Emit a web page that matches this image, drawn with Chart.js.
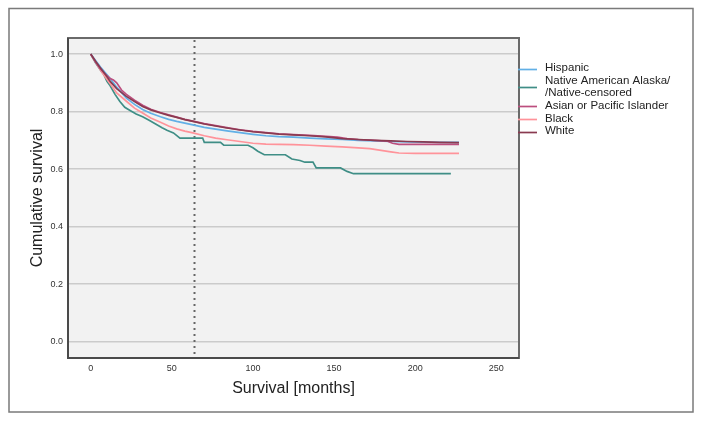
<!DOCTYPE html>
<html>
<head>
<meta charset="utf-8">
<script src="https://cdn.jsdelivr.net/npm/chart.js@4/dist/chart.umd.min.js"></script>
<style>
  html, body { margin: 0; padding: 0; background: #ffffff; }
  #wrap { width: 703px; height: 422px; position: relative; }
  canvas { display: block; }
</style>
</head>
<body>
<div id="wrap"><canvas id="c" width="703" height="422"></canvas></div>
<script>
// ---- Data ----
const seriesNames = ["Hispanic", ["Native American Alaska/", "/Native-censored"], "Asian or Pacific Islander", "Black", "White"];
const seriesColors = ["#62B0E6", "#3F8E86", "#BC4E7E", "#FF939A", "#8A3A50"];

const hispanicMonths   = [0, 3, 6, 9, 12, 16, 22, 27, 32, 37, 43, 48, 53, 58, 63, 70, 77, 84, 92, 100, 108, 116, 125, 135, 145, 155, 165, 175, 185, 195, 205, 215, 227];
const hispanicSurvival = [1.0, 0.978, 0.955, 0.935, 0.915, 0.885, 0.847, 0.825, 0.807, 0.794, 0.782, 0.773, 0.766, 0.760, 0.754, 0.745, 0.739, 0.733, 0.727, 0.721, 0.716, 0.713, 0.711, 0.708, 0.705, 0.703, 0.700, 0.698, 0.696, 0.695, 0.694, 0.693, 0.693];

const nativeMonths   = [0, 3, 6, 8, 10, 12, 15, 18, 21, 24, 28, 32, 36, 40, 44, 47, 51, 55, 69, 70, 80, 82, 97, 100, 103, 107, 120, 124, 129, 132, 137, 139, 154, 158, 162, 222];
const nativeSurvival = [1.0, 0.97, 0.945, 0.93, 0.905, 0.89, 0.86, 0.835, 0.815, 0.805, 0.792, 0.782, 0.77, 0.757, 0.744, 0.735, 0.726, 0.708, 0.708, 0.693, 0.693, 0.683, 0.683, 0.674, 0.662, 0.65, 0.65, 0.635, 0.630, 0.624, 0.624, 0.604, 0.604, 0.592, 0.584, 0.584];

const asianMonths   = [0, 3, 6, 9, 12, 14, 16, 19, 22, 27, 32, 37, 43, 48, 53, 58, 63, 70, 77, 84, 92, 100, 108, 116, 125, 135, 145, 152, 158, 165, 175, 183, 186, 190, 200, 215, 227];
const asianSurvival = [1.0, 0.972, 0.948, 0.93, 0.915, 0.91, 0.90, 0.875, 0.86, 0.84, 0.822, 0.808, 0.797, 0.789, 0.781, 0.773, 0.767, 0.758, 0.751, 0.744, 0.737, 0.731, 0.727, 0.723, 0.720, 0.717, 0.714, 0.711, 0.706, 0.703, 0.700, 0.697, 0.690, 0.686, 0.686, 0.686, 0.686];

const blackMonths   = [0, 3, 6, 9, 12, 16, 22, 27, 32, 37, 43, 48, 53, 58, 63, 70, 77, 84, 92, 100, 108, 116, 125, 135, 145, 155, 165, 172, 178, 185, 190, 200, 215, 227];
const blackSurvival = [1.0, 0.972, 0.945, 0.92, 0.897, 0.865, 0.836, 0.812, 0.795, 0.778, 0.763, 0.75, 0.740, 0.732, 0.726, 0.716, 0.708, 0.702, 0.696, 0.690, 0.687, 0.686, 0.685, 0.683, 0.680, 0.677, 0.674, 0.671, 0.666, 0.660, 0.656, 0.655, 0.655, 0.655];

const whiteMonths   = [0, 3, 6, 9, 12, 16, 22, 27, 32, 37, 43, 48, 53, 58, 63, 70, 77, 84, 92, 100, 108, 116, 125, 135, 145, 155, 165, 175, 185, 195, 205, 215, 227];
const whiteSurvival = [1.0, 0.975, 0.952, 0.93, 0.905, 0.88, 0.853, 0.835, 0.818, 0.806, 0.795, 0.787, 0.780, 0.772, 0.766, 0.757, 0.750, 0.743, 0.736, 0.730, 0.726, 0.722, 0.719, 0.716, 0.712, 0.706, 0.703, 0.700, 0.698, 0.696, 0.695, 0.693, 0.692];

const xTickValues = [0, 50, 100, 150, 200, 250];
const yTickValues = [0.0, 0.2, 0.4, 0.6, 0.8, 1.0];
const referenceMonth = 63.6;

const xTitle = "Survival [months]";
const yTitle = "Cumulative survival";

// ---- Build datasets ----
function zip(ms, ss) { return ms.map((m, i) => ({ x: m, y: ss[i] })); }
const monthsList = [hispanicMonths, nativeMonths, asianMonths, blackMonths, whiteMonths];
const survList = [hispanicSurvival, nativeSurvival, asianSurvival, blackSurvival, whiteSurvival];
const drawOrder = [2, 4, 1, 3, 0];

const datasets = seriesNames.map((name, i) => ({
  label: Array.isArray(name) ? name.join(' ') : name,
  data: zip(monthsList[i], survList[i]),
  borderColor: seriesColors[i],
  backgroundColor: seriesColors[i],
  borderWidth: 1.7,
  pointRadius: 0,
  tension: 0,
  fill: false,
  order: drawOrder[i]
}));

const FONT = "'Liberation Sans', Arial, sans-serif";

const decorPlugin = {
  id: 'decor',
  beforeDraw(chart) {
    const { ctx, chartArea: a } = chart;
    ctx.save();
    ctx.fillStyle = '#ffffff';
    ctx.fillRect(0, 0, chart.width, chart.height);
    ctx.fillStyle = '#F2F2F2';
    ctx.fillRect(a.left, a.top, a.right - a.left, a.bottom - a.top);
    ctx.restore();
  },
  beforeDatasetsDraw(chart) {
    const { ctx, chartArea: a, scales } = chart;
    const x = Math.round(scales.x.getPixelForValue(referenceMonth)) + 0.5;
    ctx.save();
    ctx.strokeStyle = '#666666';
    ctx.lineWidth = 2;
    ctx.setLineDash([2, 4]);
    ctx.beginPath();
    ctx.moveTo(x, a.top + 2);
    ctx.lineTo(x, a.bottom);
    ctx.stroke();
    ctx.restore();
  },
  afterDatasetsDraw(chart) {
    const { ctx, chartArea: a } = chart;
    ctx.save();
    // plot frame
    ctx.strokeStyle = '#6a6a6a';
    ctx.lineWidth = 2;
    ctx.strokeRect(a.left, a.top, a.right - a.left, a.bottom - a.top);
    ctx.strokeStyle = '#4a4a4a';
    ctx.beginPath();
    ctx.moveTo(a.left, a.top);
    ctx.lineTo(a.left, a.bottom);
    ctx.lineTo(a.right, a.bottom);
    ctx.stroke();
    // outer frame
    ctx.strokeStyle = '#7a7a7a';
    ctx.lineWidth = 1.5;
    ctx.strokeRect(9, 8.5, 684, 403.5);
    // legend
    ctx.fillStyle = '#ffffff';
    ctx.fillRect(a.right + 1, 57, 170, 85);
    const lineX0 = a.right - 1, lineX1 = a.right + 18, textX = a.right + 26;
    ctx.font = '11.5px ' + FONT;
    ctx.textBaseline = 'middle';
    ctx.textAlign = 'left';
    let y = 68;
    const step = 12.6;
    seriesNames.forEach((name, i) => {
      const lines = Array.isArray(name) ? name : [name];
      const lineY = y + (lines.length - 1) * step / 2 + 0.5;
      ctx.strokeStyle = seriesColors[i];
      ctx.lineWidth = 1.7;
      ctx.beginPath();
      ctx.moveTo(lineX0, Math.round(lineY) + 0.5);
      ctx.lineTo(lineX1, Math.round(lineY) + 0.5);
      ctx.stroke();
      ctx.fillStyle = '#222222';
      lines.forEach((t, k) => ctx.fillText(t, textX, y + k * step));
      y += lines.length * step;
    });
    ctx.restore();
  }
};

new Chart(document.getElementById('c'), {
  type: 'line',
  data: { datasets },
  options: {
    responsive: false,
    animation: false,
    parsing: true,
    layout: { padding: { left: 0, top: 38, right: 184, bottom: 0 } },
    plugins: { legend: { display: false }, title: { display: false }, tooltip: { enabled: false } },
    scales: {
      x: {
        type: 'linear',
        min: -14,
        max: 264,
        afterBuildTicks(scale) { scale.ticks = xTickValues.map(v => ({ value: v })); },
        afterFit(scale) { scale.height = 64; },
        grid: { display: false, drawTicks: false },
        border: { display: false },
        ticks: { padding: 5, color: '#333333', font: { family: FONT, size: 9 }, maxRotation: 0, autoSkip: false, callback: v => String(v) },
        title: { display: true, text: xTitle, color: '#222222', font: { family: FONT, size: 16 }, padding: { top: 0, bottom: 23.4 } }
      },
      y: {
        type: 'linear',
        min: -0.057,
        max: 1.056,
        afterBuildTicks(scale) { scale.ticks = yTickValues.map(v => ({ value: v })); },
        afterFit(scale) { scale.width = 68; },
        grid: { color: '#CBCBCB', lineWidth: 1.5, drawTicks: false },
        border: { display: false },
        ticks: { padding: 5, color: '#333333', font: { family: FONT, size: 9 }, autoSkip: false, callback: v => Number(v).toFixed(1) },
        title: { display: true, text: yTitle, color: '#222222', font: { family: FONT, size: 16 }, padding: { top: 28.4, bottom: 0 } }
      }
    }
  },
  plugins: [decorPlugin]
});
</script>
</body>
</html>
